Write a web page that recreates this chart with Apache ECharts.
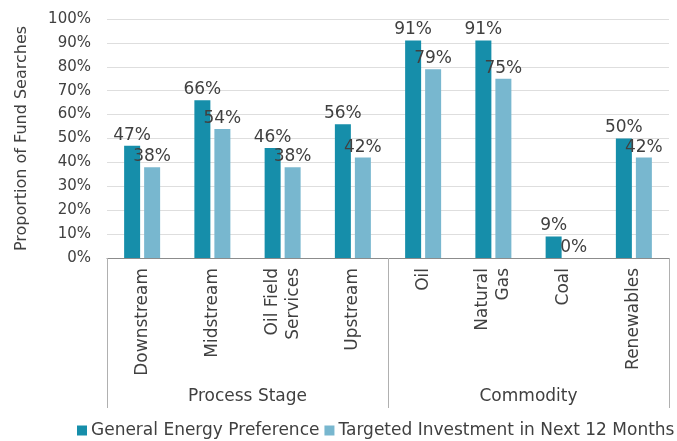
<!DOCTYPE html>
<html>
<head>
<meta charset="utf-8">
<script src="https://cdn.jsdelivr.net/npm/echarts@6/dist/echarts.min.js"></script>
<style>
  html, body { margin: 0; padding: 0; background: #fff; }
  #chart { width: 677px; height: 441px; }
</style>
</head>
<body>
<div id="chart"></div>
<script>
// Fund search preferences by energy segment
const categories = ['Downstream', 'Midstream', 'Oil Field\nServices', 'Upstream', 'Oil', 'Natural\nGas', 'Coal', 'Renewables'];
const groups = ['Process Stage', 'Commodity'];
const generalPreference = [47, 66, 46, 56, 91, 91, 9, 50];
const targetedInvestment = [38, 54, 38, 42, 79, 75, 0, 42];
const yTicks = [0, 10, 20, 30, 40, 50, 60, 70, 80, 90, 100];
const seriesNames = ['General Energy Preference', 'Targeted Investment in Next 12 Months'];

const FONT = '"DejaVu Sans", sans-serif';
const TEXT = '#404040';
const DARK = '#168EAA';
const LIGHT = '#78B7CF';

const chart = echarts.init(document.getElementById('chart'));

const barLabel = {
  show: true,
  position: 'top',
  distance: 2,
  formatter: p => p.value + '%',
  fontFamily: FONT,
  fontSize: 17,
  color: TEXT
};

chart.setOption({
  animation: false,
  textStyle: { fontFamily: FONT },
  grid: { left: 107, right: 8, top: 19, bottom: 183, containLabel: false },
  legend: {
    bottom: 2,
    left: 77,
    width: 600,
    padding: 0,
    itemWidth: 10,
    itemHeight: 10,
    itemGap: 5,
    icon: 'rect',
    textStyle: { fontFamily: FONT, fontSize: 17, color: TEXT, padding: [0, 0, 0, -1] },
    data: seriesNames
  },
  xAxis: [
    {
      type: 'category',
      data: categories,
      position: 'bottom',
      axisLine: { show: true, lineStyle: { color: '#8c8c8c', width: 1 } },
      axisTick: { show: false },
      axisLabel: {
        rotate: 90,
        interval: 0,
        margin: 10,
        fontFamily: FONT,
        fontSize: 17,
        color: TEXT,
        lineHeight: 21
      }
    },
    {
      type: 'category',
      data: groups,
      position: 'bottom',
      axisLine: { show: false },
      axisTick: { show: true, length: 150, alignWithLabel: false, lineStyle: { color: '#b0b0b0' } },
      axisLabel: { margin: 130, fontFamily: FONT, fontSize: 17, color: TEXT }
    }
  ],
  yAxis: {
    type: 'value',
    min: 0,
    max: 100,
    interval: 10,
    name: 'Proportion of Fund Searches',
    nameLocation: 'middle',
    nameGap: 77,
    nameTextStyle: { fontFamily: FONT, fontSize: 16, color: TEXT },
    axisLine: { show: false },
    axisTick: { show: false },
    axisLabel: {
      margin: 16,
      fontFamily: FONT,
      fontSize: 15,
      color: TEXT,
      formatter: v => (yTicks.includes(v) ? v + '%' : '')
    },
    splitLine: { show: true, lineStyle: { color: '#dedede', width: 1 } }
  },
  series: [
    {
      name: seriesNames[0],
      type: 'bar',
      xAxisIndex: 0,
      data: generalPreference,
      barWidth: 16,
      barGap: '25%',
      itemStyle: { color: DARK },
      label: barLabel
    },
    {
      name: seriesNames[1],
      type: 'bar',
      xAxisIndex: 0,
      data: targetedInvestment,
      barWidth: 16,
      barGap: '25%',
      itemStyle: { color: LIGHT },
      label: barLabel
    }
  ]
});
</script>
</body>
</html>
